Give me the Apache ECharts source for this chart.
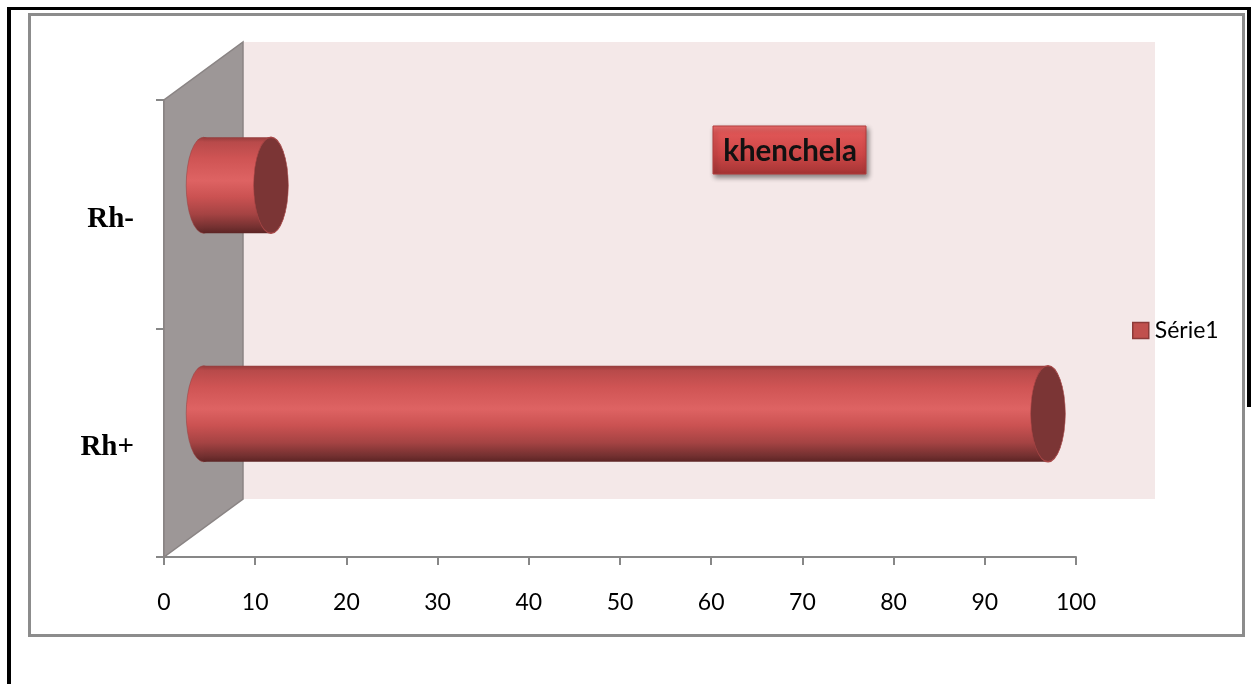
<!DOCTYPE html>
<html>
<head>
<meta charset="utf-8">
<script src="https://cdn.jsdelivr.net/npm/echarts@6/dist/echarts.min.js"></script>
<style>
  html, body { margin: 0; padding: 0; background: #ffffff; }
  #chart { width: 1251px; height: 684px; }
</style>
</head>
<body>
<div id="chart"></div>
<script>
// Rhesus factor distribution (percent)
const categories = ['Rh+', 'Rh-'];
const values = [92.6, 7.4];
const seriesName = 'Série1';
const titleText = 'khenchela';
const xMin = 0, xMax = 100, xStep = 10;

// Depth of the pseudo-3D box, in pixels (back wall offset)
const DEPTH_X = 79, DEPTH_Y = -58;

const chart = echarts.init(document.getElementById('chart'), null, { renderer: 'canvas' });

// Back wall and left side wall, built from the grid rectangle
function renderWalls(params, api) {
  const cs = params.coordSys;
  const x0 = cs.x, y0 = cs.y, y1 = cs.y + cs.height;
  return {
    type: 'group',
    children: [
      {
        type: 'rect',
        shape: { x: x0 + DEPTH_X, y: y0 + DEPTH_Y, width: cs.width, height: cs.height },
        style: { fill: '#f4e8e8' }
      },
      {
        type: 'polygon',
        shape: { points: [[x0, y1], [x0, y0], [x0 + DEPTH_X, y0 + DEPTH_Y], [x0 + DEPTH_X, y1 + DEPTH_Y]] },
        style: { fill: '#9d9797', stroke: '#8a8484', lineWidth: 1.5 }
      }
    ]
  };
}

// Horizontal cylinder placed at mid depth
function renderCylinder(params, api) {
  const cat = api.value(1);
  const start = api.coord([0, cat]);
  const end = api.coord([api.value(0), cat]);
  const band = api.size([0, 1])[1];
  const ry = band * 0.21;
  const rx = ry * 0.36;
  const lx = start[0] + DEPTH_X / 2;
  const ex = end[0] + DEPTH_X / 2;
  const cy = start[1] + DEPTH_Y / 2;
  const bodyFill = () => new echarts.graphic.LinearGradient(0, 0, 0, 1, [
    { offset: 0, color: '#943c3c' },
    { offset: 0.05, color: '#b84a4a' },
    { offset: 0.22, color: '#cf5454' },
    { offset: 0.45, color: '#de6363' },
    { offset: 0.62, color: '#cb5252' },
    { offset: 0.8, color: '#a54343' },
    { offset: 0.94, color: '#733030' },
    { offset: 1, color: '#5c2424' }
  ]);
  return {
    type: 'group',
    children: [
      {
        type: 'circle',
        shape: { cx: 0, cy: 0, r: ry },
        x: lx, y: cy, scaleX: rx / ry,
        style: { fill: bodyFill(), stroke: '#9a4040', lineWidth: 0.8 }
      },
      {
        type: 'rect',
        shape: { x: lx, y: cy - ry, width: ex - lx, height: 2 * ry },
        style: { fill: bodyFill() }
      },
      {
        type: 'circle',
        shape: { cx: 0, cy: 0, r: ry },
        x: ex, y: cy, scaleX: rx / ry,
        style: { fill: '#7b3535', stroke: '#a54545', lineWidth: 1.5 }
      }
    ]
  };
}

const titleFill = new echarts.graphic.LinearGradient(0, 0, 0, 1, [
  { offset: 0, color: '#ef7070' },
  { offset: 0.15, color: '#e05656' },
  { offset: 0.6, color: '#cc4646' },
  { offset: 1, color: '#a43434' }
]);

const option = {
  backgroundColor: '#ffffff',
  animation: false,
  grid: { left: 164, right: 175, top: 100, bottom: 127, containLabel: false },
  legend: {
    data: [seriesName],
    left: 1127,
    top: 314,
    icon: 'rect',
    itemWidth: 16,
    itemHeight: 16,
    itemStyle: { color: '#c0504d', borderColor: '#8c3a38', borderWidth: 1.5 },
    textStyle: { fontFamily: 'Lato', fontSize: 23, color: '#000000', padding: [0, 0, 0, 1] },
    selectedMode: false
  },
  xAxis: {
    type: 'value',
    min: xMin,
    max: xMax,
    interval: xStep,
    axisLine: { show: true, lineStyle: { color: '#878787', width: 2 } },
    axisTick: { show: true, length: 8, lineStyle: { color: '#878787', width: 2 } },
    axisLabel: { fontFamily: 'Lato', fontSize: 23, color: '#000000', margin: 34 },
    splitLine: { show: false }
  },
  yAxis: {
    type: 'category',
    data: categories,
    boundaryGap: true,
    axisLine: { show: true, lineStyle: { color: '#878787', width: 2 } },
    axisTick: { show: true, length: 8, lineStyle: { color: '#878787', width: 2 } },
    axisLabel: {
      margin: 30,
      formatter: '{cat|{value}}',
      rich: {
        cat: {
          fontFamily: 'Liberation Serif',
          fontWeight: 'bold',
          fontSize: 29,
          color: '#000000',
          padding: [10, 0, 0, 0]
        }
      }
    },
    splitLine: { show: false }
  },
  series: [
    {
      name: 'walls',
      type: 'custom',
      silent: true,
      z: 1,
      renderItem: renderWalls,
      data: [[0, 0]]
    },
    {
      name: seriesName,
      type: 'custom',
      z: 3,
      itemStyle: { color: '#c0504d' },
      renderItem: renderCylinder,
      encode: { x: 0, y: 1 },
      data: values.map((v, i) => [v, i])
    }
  ],
  graphic: {
    elements: [
      // outer black frame
      { type: 'rect', z: 20, silent: true, shape: { x: 7, y: 7, width: 4, height: 677 }, style: { fill: '#000000' } },
      { type: 'rect', z: 20, silent: true, shape: { x: 7, y: 7, width: 1244, height: 3 }, style: { fill: '#000000' } },
      { type: 'rect', z: 20, silent: true, shape: { x: 1247, y: 7, width: 4, height: 400 }, style: { fill: '#000000' } },
      // chart area border
      {
        type: 'rect', z: 20, silent: true,
        shape: { x: 29.5, y: 14.5, width: 1214, height: 621 },
        style: { fill: 'none', stroke: '#8c8c8c', lineWidth: 3 }
      },
      // title box
      {
        type: 'rect', z: 21, silent: true,
        shape: { x: 713, y: 126, width: 153, height: 48 },
        style: {
          fill: titleFill,
          stroke: '#b23c3c',
          lineWidth: 1,
          shadowBlur: 5,
          shadowOffsetX: 2,
          shadowOffsetY: 3,
          shadowColor: 'rgba(0,0,0,0.45)'
        }
      },
      {
        type: 'text', z: 22, silent: true,
        x: 790, y: 151,
        style: {
          text: titleText,
          font: 'bold 29.5px Lato',
          fill: '#111111',
          align: 'center',
          verticalAlign: 'middle'
        }
      }
    ]
  }
};

chart.setOption(option);
</script>
</body>
</html>
